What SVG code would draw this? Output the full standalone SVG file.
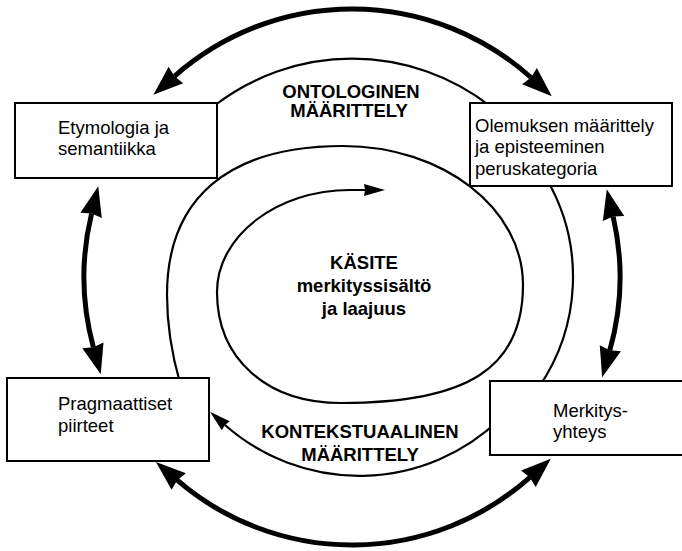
<svg xmlns="http://www.w3.org/2000/svg" width="682" height="551" viewBox="0 0 682 551">
  <style>
    .box rect { fill: #fff; stroke: #000; stroke-width: 2; }
    .txt { font-family: "Liberation Sans", Arial, sans-serif; font-size: 18.5px; fill: #000; }
    .bold { font-weight: bold; text-anchor: middle; }
    .thick { fill: none; stroke: #000; stroke-width: 5; marker-start: url(#big); marker-end: url(#big); }
    .thin { fill: none; stroke: #000; stroke-width: 2.2; marker-end: url(#small); }
  </style>
  <defs>
    <marker id="big" viewBox="-3 -12 32 24" refX="0" refY="0" markerWidth="32" markerHeight="24"
            markerUnits="userSpaceOnUse" orient="auto-start-reverse">
      <path d="M-2,-11 L28,0 L-2,11 L0,0 z" fill="#000"/>
    </marker>
    <marker id="small" viewBox="-2 -7 24 14" refX="0" refY="0" markerWidth="24" markerHeight="14"
            markerUnits="userSpaceOnUse" orient="auto">
      <path d="M-1,-6 L20,0 L-1,6 L0,0 z" fill="#000"/>
    </marker>
  </defs>

  <rect x="0" y="0" width="682" height="551" fill="#fff"/>

  <!-- connectors: outer two-way ring and the two inner spirals -->
  <g id="connectors">
    <path class="thick" d="M174.4,76.3 A268,268 0 0 1 531,77.5"/>
    <path class="thick" d="M613.1,216.5 A268,268 0 0 1 609.8,350.2"/>
    <path class="thick" d="M529.9,477.4 A268,268 0 0 1 177.2,480.2"/>
    <path class="thick" d="M93.4,347.3 A268,268 0 0 1 91.6,213.5"/>

    <path class="thin" d="M214,106 A225,225 0 0 1 490,106 L547.2,180 A195,195 0 0 1 538.3,388 L500,419 A202.7,202.7 0 0 1 225,425"/>
    <path class="thin" d="M180,383 C172,355 167,322 167,295 C167,198.2 228.6,146 343,146 C442.4,146 523,208.2 523,285 C523,367.6 468.4,403 341,403 C266.6,403 217,358.6 217,292 C217,236 277,190 350,190 L365,190"/>
  </g>

  <g id="etymologia" class="box">
    <rect x="15" y="103" width="202" height="75"/>
    <text class="txt" x="58" y="133.5">Etymologia ja</text>
    <text class="txt" x="58" y="155">semantiikka</text>
  </g>

  <g id="olemus" class="box">
    <rect x="470" y="103" width="202" height="83"/>
    <text class="txt" x="475" y="131.5">Olemuksen määrittely</text>
    <text class="txt" x="475" y="153.3">ja episteeminen</text>
    <text class="txt" x="475" y="175">peruskategoria</text>
  </g>

  <g id="pragmatiikka" class="box">
    <rect x="7" y="378" width="202" height="83"/>
    <text class="txt" x="58" y="410">Pragmaattiset</text>
    <text class="txt" x="58" y="431.7">piirteet</text>
  </g>

  <g id="merkitysyhteys" class="box">
    <rect x="490" y="381" width="202" height="74"/>
    <text class="txt" x="553" y="416.5">Merkitys-</text>
    <text class="txt" x="553" y="437.5">yhteys</text>
  </g>

  <g id="kasite">
    <text class="txt bold" x="364" y="269">KÄSITE</text>
    <text class="txt bold" x="364" y="292">merkityssisältö</text>
    <text class="txt bold" x="364" y="315">ja laajuus</text>
  </g>

  <g id="ontologinen">
    <text class="txt bold" x="351" y="97.5">ONTOLOGINEN</text>
    <text class="txt bold" x="349" y="116.5">MÄÄRITTELY</text>
  </g>

  <g id="kontekstuaalinen">
    <text class="txt bold" x="360" y="437.5">KONTEKSTUAALINEN</text>
    <text class="txt bold" x="360" y="461">MÄÄRITTELY</text>
  </g>
</svg>
